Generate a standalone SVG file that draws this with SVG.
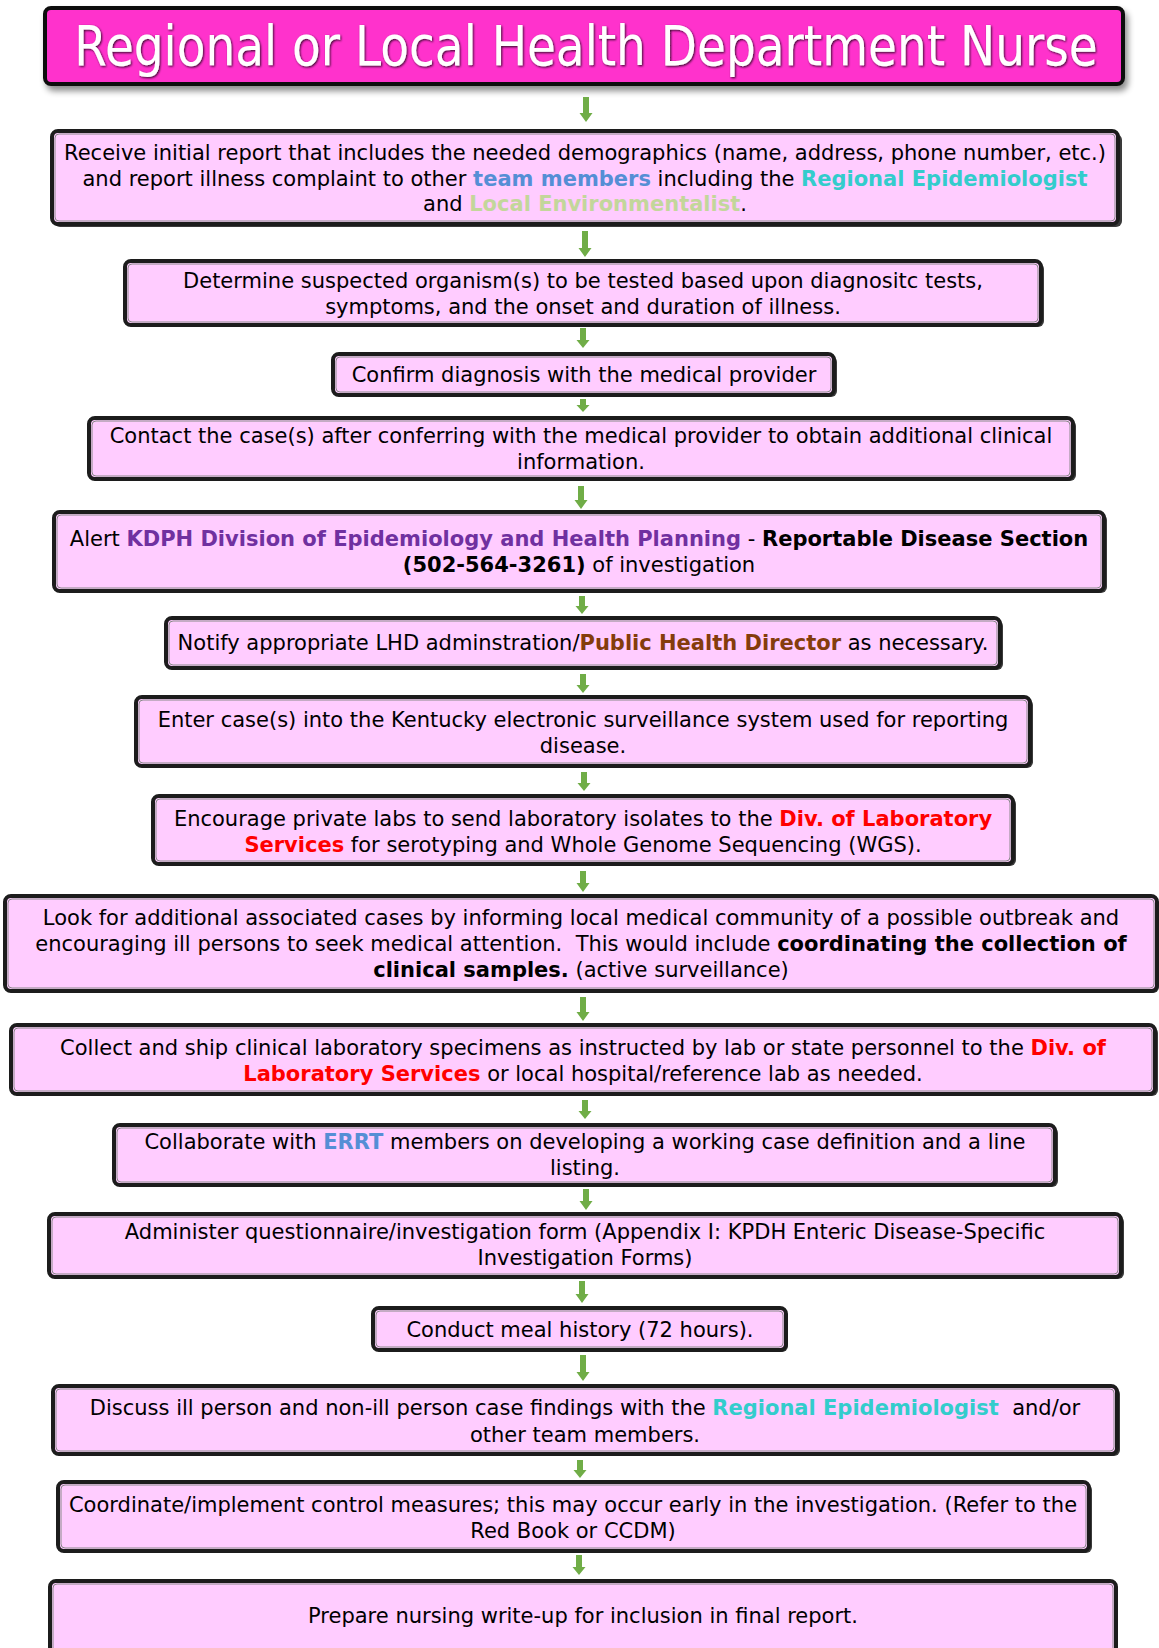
<svg xmlns="http://www.w3.org/2000/svg" width="1159" height="1648" viewBox="0 0 1159 1648">
<defs>
<style>
.box{fill:#FFCCFF;stroke:#1c1c1c;stroke-width:4}
.inner{fill:none;stroke:#8a8a8a;stroke-width:1}
.sh{fill:#3a3a3a}
.t{font-family:"DejaVu Sans",Verdana,sans-serif;font-size:21px;fill:#000;text-anchor:middle}
.b{font-weight:bold}
.blue{fill:#558ED5;font-weight:bold}
.turq{fill:#33CCCC;font-weight:bold}
.green{fill:#C3D69B;font-weight:bold}
.purple{fill:#7030A0;font-weight:bold}
.brown{fill:#843C0C;font-weight:bold}
.red{fill:#FF0000;font-weight:bold}
.arrow{fill:#70AD47}
.title{font-family:"DejaVu Sans",Verdana,sans-serif;font-size:47px;fill:#FFFFFF;text-anchor:middle}
</style>
<filter id="tsh" x="-5%" y="-30%" width="110%" height="160%">
<feDropShadow dx="1" dy="1" stdDeviation="1" flood-color="#000" flood-opacity="0.8"/>
</filter>
<filter id="bsh" filterUnits="userSpaceOnUse" x="0" y="0" width="1159" height="110">
<feDropShadow dx="3" dy="5" stdDeviation="3" flood-color="#000" flood-opacity="0.45"/>
</filter>
</defs>
<rect width="1159" height="1648" fill="#FFFFFF"/>

<g id="title">
<rect x="45" y="8" width="1078" height="76" rx="6" fill="#FF33CC" stroke="#111" stroke-width="4" filter="url(#bsh)"/>
<text class="title" transform="translate(586,65) scale(1,1.16)" x="0" y="0" filter="url(#tsh)">Regional or Local Health Department Nurse</text>
</g>

<g id="connectors">
<polygon class="arrow" points="583,97 589,97 589,113 592.5,113 586,122 579.5,113 583,113"/>
<polygon class="arrow" points="582,231 588,231 588,248 591.5,248 585,257 578.5,248 582,248"/>
<polygon class="arrow" points="580,328 586,328 586,340 589.5,340 583,348 576.5,340 580,340"/>
<polygon class="arrow" points="580,399 586,399 586,405 589.5,405 583,412 576.5,405 580,405"/>
<polygon class="arrow" points="578,486 584,486 584,500 587.5,500 581,509 574.5,500 578,500"/>
<polygon class="arrow" points="579,596 585,596 585,606 588.5,606 582,614 575.5,606 579,606"/>
<polygon class="arrow" points="580,674 586,674 586,685 589.5,685 583,693 576.5,685 580,685"/>
<polygon class="arrow" points="581,772 587,772 587,783 590.5,783 584,791 577.5,783 581,783"/>
<polygon class="arrow" points="580,871 586,871 586,883 589.5,883 583,892 576.5,883 580,883"/>
<polygon class="arrow" points="580,997 586,997 586,1012 589.5,1012 583,1021 576.5,1012 580,1012"/>
<polygon class="arrow" points="582,1100 588,1100 588,1111 591.5,1111 585,1119 578.5,1111 582,1111"/>
<polygon class="arrow" points="583,1189 589,1189 589,1201 592.5,1201 586,1210 579.5,1201 583,1201"/>
<polygon class="arrow" points="579,1281 585,1281 585,1294 588.5,1294 582,1303 575.5,1294 579,1294"/>
<polygon class="arrow" points="580,1355 586,1355 586,1372 589.5,1372 583,1381 576.5,1372 580,1372"/>
<polygon class="arrow" points="577,1460 583,1460 583,1470 586.5,1470 580,1478 573.5,1470 577,1470"/>
<polygon class="arrow" points="576,1555 582,1555 582,1567 585.5,1567 579,1575 572.5,1567 576,1567"/>
</g>

<g id="n1">
<rect class="sh" x="54" y="134" width="1068" height="93" rx="6"/>
<rect class="box" x="52" y="131" width="1066" height="93" rx="6"/>
<rect class="inner" x="55" y="134" width="1060" height="87" rx="4"/>
<text class="t" x="585" y="160">Receive initial report that includes the needed demographics (name, address, phone number, etc.)</text>
<text class="t" x="585" y="186">and report illness complaint to other <tspan class="blue">team members</tspan> including the <tspan class="turq">Regional Epidemiologist</tspan></text>
<text class="t" x="585" y="211">and <tspan class="green">Local Environmentalist</tspan>.</text>
</g>

<g id="n2">
<rect class="sh" x="127" y="263" width="917" height="64" rx="6"/>
<rect class="box" x="125" y="261" width="916" height="64" rx="6"/>
<rect class="inner" x="128" y="264" width="910" height="58" rx="4"/>
<text class="t" x="583" y="288">Determine suspected organism(s) to be tested based upon diagnositc tests,</text>
<text class="t" x="583" y="314">symptoms, and the onset and duration of illness.</text>
</g>

<g id="n3">
<rect class="sh" x="335" y="356" width="502" height="41" rx="6"/>
<rect class="box" x="333" y="354" width="501" height="41" rx="6"/>
<rect class="inner" x="336" y="357" width="495" height="35" rx="4"/>
<text class="t" x="584" y="382">Confirm diagnosis with the medical provider</text>
</g>

<g id="n4">
<rect class="sh" x="91" y="420" width="985" height="61" rx="6"/>
<rect class="box" x="89" y="418" width="984" height="61" rx="6"/>
<rect class="inner" x="92" y="421" width="978" height="55" rx="4"/>
<text class="t" x="581" y="443">Contact the case(s) after conferring with the medical provider to obtain additional clinical</text>
<text class="t" x="581" y="469">information.</text>
</g>

<g id="n5">
<rect class="sh" x="56" y="514" width="1051" height="79" rx="6"/>
<rect class="box" x="54" y="512" width="1050" height="79" rx="6"/>
<rect class="inner" x="57" y="515" width="1044" height="73" rx="4"/>
<text class="t" x="579" y="546">Alert <tspan class="purple">KDPH Division of Epidemiology and Health Planning</tspan> - <tspan class="b">Reportable Disease Section</tspan></text>
<text class="t" x="579" y="572"><tspan class="b">(502-564-3261)</tspan> of investigation</text>
</g>

<g id="n6">
<rect class="sh" x="168" y="620" width="835" height="50" rx="6"/>
<rect class="box" x="166" y="618" width="834" height="50" rx="6"/>
<rect class="inner" x="169" y="621" width="828" height="44" rx="4"/>
<text class="t" x="583" y="650">Notify appropriate LHD adminstration/<tspan class="brown">Public Health Director</tspan> as necessary.</text>
</g>

<g id="n7">
<rect class="sh" x="138" y="699" width="895" height="69" rx="6"/>
<rect class="box" x="136" y="697" width="894" height="69" rx="6"/>
<rect class="inner" x="139" y="700" width="888" height="63" rx="4"/>
<text class="t" x="583" y="727">Enter case(s) into the Kentucky electronic surveillance system used for reporting</text>
<text class="t" x="583" y="753">disease.</text>
</g>

<g id="n8">
<rect class="sh" x="155" y="798" width="861" height="68" rx="6"/>
<rect class="box" x="153" y="796" width="860" height="68" rx="6"/>
<rect class="inner" x="156" y="799" width="854" height="62" rx="4"/>
<text class="t" x="583" y="826">Encourage private labs to send laboratory isolates to the <tspan class="red">Div. of Laboratory</tspan></text>
<text class="t" x="583" y="852"><tspan class="red">Services</tspan> for serotyping and Whole Genome Sequencing (WGS).</text>
</g>

<g id="n9">
<rect class="sh" x="7" y="898" width="1152" height="95" rx="6"/>
<rect class="box" x="5" y="896" width="1152" height="95" rx="6"/>
<rect class="inner" x="8" y="899" width="1146" height="89" rx="4"/>
<text class="t" x="581" y="925">Look for additional associated cases by informing local medical community of a possible outbreak and</text>
<text class="t" x="581" y="951">encouraging ill persons to seek medical attention.&#160; This would include <tspan class="b">coordinating the collection of</tspan></text>
<text class="t" x="581" y="977"><tspan class="b">clinical samples.</tspan> (active surveillance)</text>
</g>

<g id="n10">
<rect class="sh" x="13" y="1027" width="1145" height="69" rx="6"/>
<rect class="box" x="11" y="1025" width="1144" height="69" rx="6"/>
<rect class="inner" x="14" y="1028" width="1138" height="63" rx="4"/>
<text class="t" x="583" y="1055">Collect and ship clinical laboratory specimens as instructed by lab or state personnel to the <tspan class="red">Div. of</tspan></text>
<text class="t" x="583" y="1081"><tspan class="red">Laboratory Services</tspan> or local hospital/reference lab as needed.</text>
</g>

<g id="n11">
<rect class="sh" x="116" y="1127" width="942" height="60" rx="6"/>
<rect class="box" x="114" y="1125" width="941" height="60" rx="6"/>
<rect class="inner" x="117" y="1128" width="935" height="54" rx="4"/>
<text class="t" x="585" y="1149">Collaborate with <tspan class="blue">ERRT</tspan> members on developing a working case definition and a line</text>
<text class="t" x="585" y="1175">listing.</text>
</g>

<g id="n12">
<rect class="sh" x="51" y="1216" width="1073" height="63" rx="6"/>
<rect class="box" x="49" y="1214" width="1072" height="63" rx="6"/>
<rect class="inner" x="52" y="1217" width="1066" height="57" rx="4"/>
<text class="t" x="585" y="1239">Administer questionnaire/investigation form (Appendix I: KPDH Enteric Disease-Specific</text>
<text class="t" x="585" y="1265">Investigation Forms)</text>
</g>

<g id="n13">
<rect class="sh" x="375" y="1310" width="413" height="42" rx="6"/>
<rect class="box" x="373" y="1308" width="413" height="42" rx="6"/>
<rect class="inner" x="376" y="1311" width="407" height="36" rx="4"/>
<text class="t" x="580" y="1337">Conduct meal history (72 hours).</text>
</g>

<g id="n14">
<rect class="sh" x="55" y="1388" width="1065" height="68" rx="6"/>
<rect class="box" x="53" y="1386" width="1064" height="68" rx="6"/>
<rect class="inner" x="56" y="1389" width="1058" height="62" rx="4"/>
<text class="t" x="585" y="1415">Discuss ill person and non-ill person case findings with the <tspan class="turq">Regional Epidemiologist</tspan>&#160; and/or</text>
<text class="t" x="585" y="1442">other team members.</text>
</g>

<g id="n15">
<rect class="sh" x="60" y="1484" width="1032" height="69" rx="6"/>
<rect class="box" x="58" y="1482" width="1031" height="69" rx="6"/>
<rect class="inner" x="61" y="1485" width="1025" height="63" rx="4"/>
<text class="t" x="573" y="1512">Coordinate/implement control measures; this may occur early in the investigation. (Refer to the</text>
<text class="t" x="573" y="1538">Red Book or CCDM)</text>
</g>

<g id="n16">
<rect class="sh" x="52" y="1583" width="1066" height="80" rx="6"/>
<rect class="box" x="50" y="1581" width="1066" height="80" rx="6"/>
<rect class="inner" x="53" y="1584" width="1060" height="74" rx="4"/>
<text class="t" x="583" y="1623">Prepare nursing write-up for inclusion in final report.</text>
</g>
</svg>
